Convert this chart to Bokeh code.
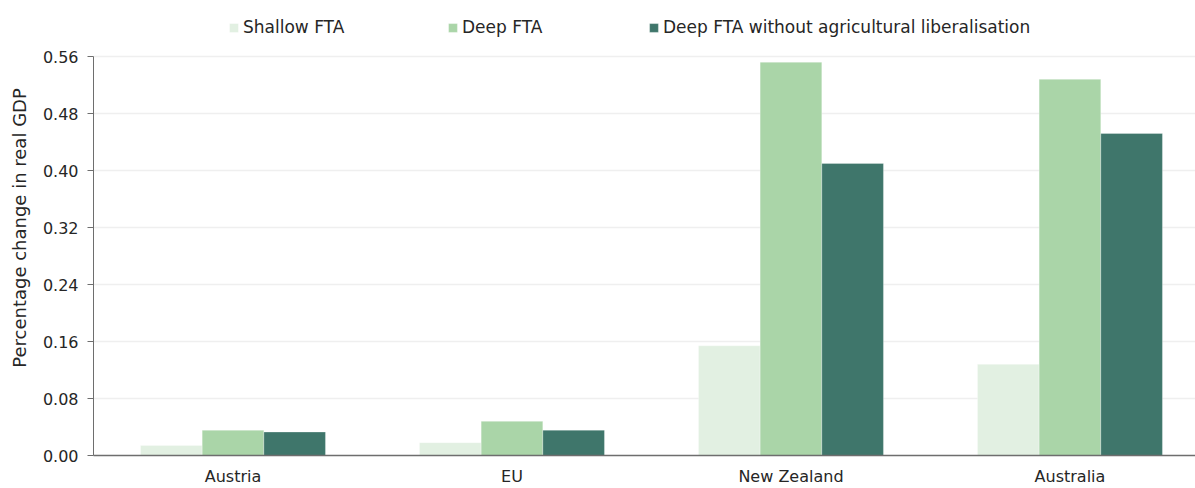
from bokeh.plotting import figure
from bokeh.models import Range1d, FixedTicker, Legend, LegendItem, ColumnDataSource, NumeralTickFormatter
from bokeh.embed import file_html
from bokeh.resources import INLINE

regions = ["Austria", "EU", "New Zealand", "Australia"]
shallow = [0.014, 0.018, 0.154, 0.128]
deep = [0.0355, 0.048, 0.552, 0.528]
deep_no_agri = [0.033, 0.0356, 0.41, 0.452]
series_names = ["Shallow FTA", "Deep FTA", "Deep FTA without agricultural liberalisation"]
colors = ["#e2f0e2", "#aad5a8", "#3f766b"]
y_ticks = [0.0, 0.08, 0.16, 0.24, 0.32, 0.40, 0.48, 0.56]

FONT = "DejaVu Sans"
TXT = "#262626"
FS = "16px"

# frame spans the whole height above the x axis; the y axis line is bounded to 0..0.56
p = figure(width=1195, height=488, output_backend="svg", toolbar_location=None,
           x_range=Range1d(0, 3.95), y_range=Range1d(0, 0.6386),
           min_border_left=93, min_border_right=0, min_border_bottom=10, min_border_top=0)
p.outline_line_color = None
p.background_fill_color = "white"
p.border_fill_color = "white"

centers = [i + 0.5 for i in range(len(regions))]
bw = 0.221
offsets = [-bw, 0.0, bw]
renderers = []
for vals, off, col in zip([shallow, deep, deep_no_agri], offsets, colors):
    src = ColumnDataSource(dict(x=[c + off for c in centers], top=vals))
    r = p.vbar(x="x", top="top", width=bw, bottom=0, source=src, fill_color=col,
               line_color="white", line_width=0.5, line_alpha=0.6)
    renderers.append(r)

p.xaxis.ticker = FixedTicker(ticks=centers)
p.xaxis.major_label_overrides = {c: r for c, r in zip(centers, regions)}
p.xaxis.major_tick_line_color = None
p.xaxis.major_tick_out = 0
p.xaxis.major_tick_in = 0
p.xaxis.minor_tick_line_color = None
p.xaxis.axis_line_color = "#6e6e6e"
p.xaxis.axis_line_width = 1.5
p.xaxis.major_label_text_font = FONT
p.xaxis.major_label_text_font_size = FS
p.xaxis.major_label_text_color = TXT
p.xaxis.major_label_standoff = 11

p.yaxis.ticker = FixedTicker(ticks=y_ticks)
p.yaxis.bounds = (0, 0.56)
p.yaxis.formatter = NumeralTickFormatter(format="0.00")
p.yaxis.minor_tick_line_color = None
p.yaxis.major_tick_out = 6
p.yaxis.major_tick_in = 0
p.yaxis.major_tick_line_color = "#6e6e6e"
p.yaxis.axis_line_color = "#6e6e6e"
p.yaxis.major_label_text_font = FONT
p.yaxis.major_label_text_font_size = FS
p.yaxis.major_label_text_color = TXT
p.yaxis.major_label_standoff = 9
p.yaxis.axis_label = "Percentage change in real GDP"
p.yaxis.axis_label_text_font = FONT
p.yaxis.axis_label_text_font_size = "18px"
p.yaxis.axis_label_text_font_style = "normal"
p.yaxis.axis_label_text_color = TXT
p.yaxis.axis_label_standoff = 10

p.xgrid.grid_line_color = None
p.ygrid.grid_line_color = "#efefef"
p.ygrid.grid_line_width = 1.5

legend_x = [135, 354, 555]
for name, r, lx in zip(series_names, renderers, legend_x):
    lg = Legend(items=[LegendItem(label=name, renderers=[r])],
                orientation="horizontal", location=(lx, 418),
                glyph_width=11, glyph_height=11, label_standoff=4,
                label_text_font=FONT, label_text_font_size="17px", label_text_color=TXT,
                border_line_color=None, background_fill_alpha=0, padding=0, margin=0)
    p.add_layout(lg)

open("out.html", "w").write(file_html(p, INLINE))
